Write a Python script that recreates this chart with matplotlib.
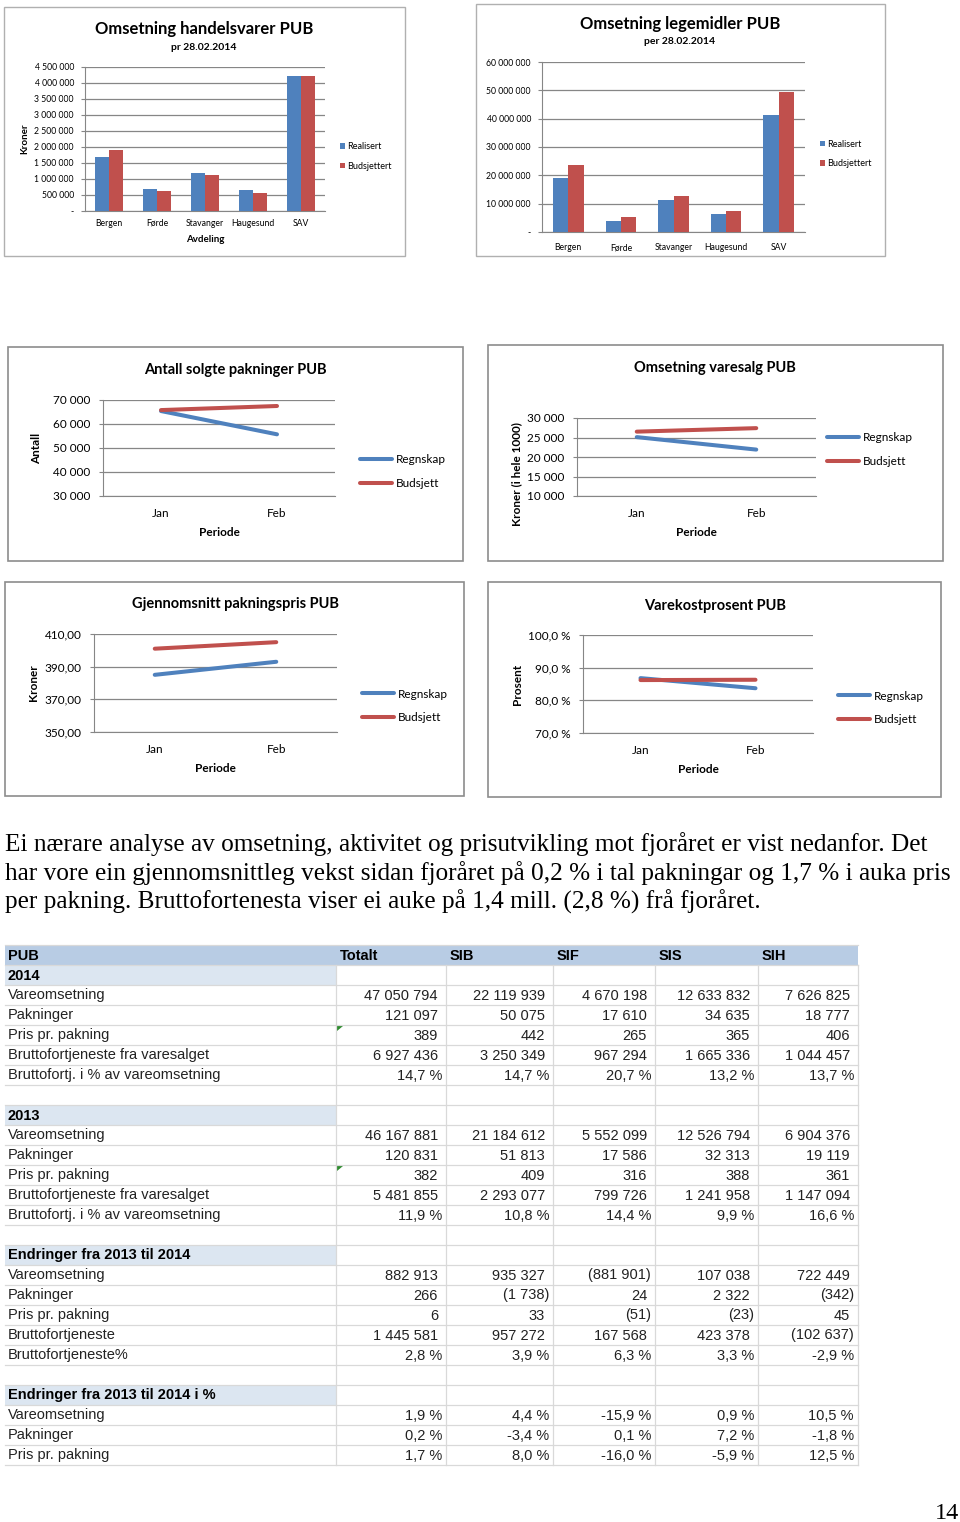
import numpy as np
import matplotlib
matplotlib.use('Agg')
import matplotlib.pyplot as plt
from matplotlib.patches import Rectangle, Polygon

# --- data read from the page ---------------------------------------------
avdelinger = ['Bergen', 'Førde', 'Stavanger', 'Haugesund', 'SAV']
handel_realisert = [1690000, 690000, 1180000, 655000, 4210000]
handel_budsjett = [1895000, 615000, 1125000, 570000, 4210000]
legemidler_realisert = [19100000, 3900000, 11400000, 6500000, 41400000]
legemidler_budsjett = [23500000, 5300000, 12700000, 7300000, 49400000]

perioder = ['Jan', 'Feb']
antall_regnskap = [65400, 55700]
antall_budsjett = [65800, 67500]
omsetning_regnskap = [25100, 21900]
omsetning_budsjett = [26500, 27400]
pris_regnskap = [385.0, 393.0]
pris_budsjett = [401.0, 405.0]
varekost_regnskap = [86.8, 83.7]
varekost_budsjett = [86.2, 86.3]

tabell_kolonner = ['Totalt', 'SIB', 'SIF', 'SIS', 'SIH']
rad_navn = ['Vareomsetning', 'Pakninger', 'Pris pr. pakning',
            'Bruttofortjeneste fra varesalget', 'Bruttofortj. i % av vareomsetning']
endring_navn = ['Vareomsetning', 'Pakninger', 'Pris pr. pakning',
                'Bruttofortjeneste', 'Bruttofortjeneste%']
endring_pst_navn = ['Vareomsetning', 'Pakninger', 'Pris pr. pakning']

vareoms_2014 = [47050794, 22119939, 4670198, 12633832, 7626825]
pakninger_2014 = [121097, 50075, 17610, 34635, 18777]
pris_2014 = [389, 442, 265, 365, 406]
brutto_2014 = [6927436, 3250349, 967294, 1665336, 1044457]
bruttopst_2014 = [14.7, 14.7, 20.7, 13.2, 13.7]

vareoms_2013 = [46167881, 21184612, 5552099, 12526794, 6904376]
pakninger_2013 = [120831, 51813, 17586, 32313, 19119]
pris_2013 = [382, 409, 316, 388, 361]
brutto_2013 = [5481855, 2293077, 799726, 1241958, 1147094]
bruttopst_2013 = [11.9, 10.8, 14.4, 9.9, 16.6]

endr_vareoms = [882913, 935327, -881901, 107038, 722449]
endr_pakninger = [266, -1738, 24, 2322, -342]
endr_pris = [6, 33, -51, -23, 45]
endr_brutto = [1445581, 957272, 167568, 423378, -102637]
endr_bruttopst = [2.8, 3.9, 6.3, 3.3, -2.9]

pst_vareoms = [1.9, 4.4, -15.9, 0.9, 10.5]
pst_pakninger = [0.2, -3.4, 0.1, 7.2, -1.8]
pst_pris = [1.7, 8.0, -16.0, -5.9, 12.5]

tekst = ['Ei nærare analyse av omsetning, aktivitet og prisutvikling mot fjoråret er vist nedanfor. Det',
         'har vore ein gjennomsnittleg vekst sidan fjoråret på 0,2 % i tal pakningar og 1,7 % i auka pris',
         'per pakning. Bruttofortenesta viser ei auke på 1,4 mill. (2,8 %) frå fjoråret.']

BLUE = '#4f81bd'
RED = '#c0504d'
GRID = '#868686'
CF = 'Lato'

W, H = 960, 1522
fig = plt.figure(figsize=(W / 100, H / 100), dpi=100)
fig.patch.set_facecolor('white')


def fx(x):
    return x / W


def fy(y):
    return 1 - y / H


def add_ax(x0, y0, x1, y1):
    return fig.add_axes([x0 / W, 1 - y1 / H, (x1 - x0) / W, (y1 - y0) / H])


def box(x0, y0, x1, y1, ec='#a6a6a6', lw=1.0):
    fig.add_artist(Rectangle((fx(x0), fy(y1)), (x1 - x0) / W, (y1 - y0) / H,
                             transform=fig.transFigure, fill=False, ec=ec, lw=lw))


def space_fmt(v):
    if v == 0:
        return '-'
    return '{:,.0f}'.format(v).replace(',', ' ')


def style_axes(ax, fs, ypad):
    for s in ['top', 'right']:
        ax.spines[s].set_visible(False)
    ax.spines['left'].set_color(GRID)
    ax.spines['bottom'].set_color(GRID)
    ax.yaxis.grid(True, color=GRID, lw=0.9)
    ax.set_axisbelow(True)
    ax.tick_params(axis='y', length=3, color=GRID, labelsize=fs, pad=ypad)
    ax.tick_params(axis='x', length=0, labelsize=fs)
    for lab in ax.get_xticklabels() + ax.get_yticklabels():
        lab.set_fontfamily(CF)


# --- bar charts -----------------------------------------------------------
def bar_chart(plot, real, bud, ymax, ystep, title, title_xy, sub, sub_xy,
              leg_xy, xpad, xlabel=None, ylabel=None):
    ax = add_ax(*plot)
    x = np.arange(len(avdelinger))
    w = 0.29
    ax.bar(x - w / 2, real, w, color=BLUE, label='Realisert', zorder=3)
    ax.bar(x + w / 2, bud, w, color=RED, label='Budsjettert', zorder=3)
    ax.set_xlim(-0.5, len(avdelinger) - 0.5)
    ax.set_ylim(0, ymax)
    ticks = np.arange(0, ymax + 1, ystep)
    ax.set_yticks(ticks)
    ax.set_yticklabels([space_fmt(t) for t in ticks])
    ax.set_xticks(x)
    ax.set_xticklabels(avdelinger)
    style_axes(ax, 6.2, 5)
    ax.tick_params(axis='x', pad=xpad)
    if xlabel:
        ax.set_xlabel(xlabel, fontfamily=CF, fontsize=7, fontweight='bold', labelpad=5)
    if ylabel:
        ax.set_ylabel(ylabel, fontfamily=CF, fontsize=7, fontweight='bold', labelpad=4)
    ax.legend(loc='center left', bbox_to_anchor=(fx(leg_xy[0]), fy(leg_xy[1])),
              bbox_transform=fig.transFigure, frameon=False,
              prop={'family': CF, 'size': 6.5}, handlelength=0.6, handleheight=0.6,
              handletextpad=0.2, labelspacing=1.15, borderpad=0, borderaxespad=0)
    fig.text(fx(title_xy[0]), fy(title_xy[1]), title, ha='center', va='center',
             fontfamily=CF, fontsize=12, fontweight='bold')
    fig.text(fx(sub_xy[0]), fy(sub_xy[1]), sub, ha='center', va='center',
             fontfamily=CF, fontsize=7.5, fontweight='bold')
    return ax


box(4, 7, 405, 256, ec='#b0b0b0')
bar_chart((85, 67, 325, 211), handel_realisert, handel_budsjett, 4500000, 500000,
          'Omsetning handelsvarer PUB', (204, 29), 'pr 28.02.2014', (204, 47),
          (340, 156.5), 5.5, xlabel='Avdeling', ylabel='Kroner')

box(476, 4, 885, 256, ec='#b0b0b0')
bar_chart((542, 62, 805, 232), legemidler_realisert, legemidler_budsjett, 60000000, 10000000,
          'Omsetning legemidler PUB', (680, 24), 'per 28.02.2014', (680, 42),
          (820, 154), 8)


# --- line charts ----------------------------------------------------------
def line_chart(frame, plot, reg, bud, ylim, yticks, yfmt, title, title_xy,
               ylabel, ylabel_y, leg_xy):
    box(*frame, ec='#8c8c8c', lw=1.2)
    ax = add_ax(*plot)
    x = np.arange(len(perioder))
    ax.plot(x, reg, color=BLUE, lw=2.9, solid_capstyle='round', label='Regnskap', zorder=3)
    ax.plot(x, bud, color=RED, lw=2.9, solid_capstyle='round', label='Budsjett', zorder=3)
    ax.set_xlim(-0.5, len(perioder) - 0.5)
    ax.set_ylim(*ylim)
    ax.set_yticks(yticks)
    ax.set_yticklabels([yfmt(t) for t in yticks])
    ax.set_xticks(x)
    ax.set_xticklabels(perioder)
    style_axes(ax, 8.5, 6)
    ax.tick_params(axis='x', pad=8.5)
    ax.set_xlabel('Periode', fontfamily=CF, fontsize=8.5, fontweight='bold', va='center')
    ph = plot[3] - plot[1]
    pw = plot[2] - plot[0]
    ax.xaxis.set_label_coords(0.5, -(37 / ph))
    ax.set_ylabel(ylabel, fontfamily=CF, fontsize=8.5, fontweight='bold', va='center')
    ax.yaxis.set_label_coords(-(plot[0] - frame[0] - 29) / pw, ylabel_y)
    ax.legend(loc='center left', bbox_to_anchor=(fx(leg_xy[0]), fy(leg_xy[1])),
              bbox_transform=fig.transFigure, frameon=False,
              prop={'family': CF, 'size': 8.5}, handlelength=2.7,
              handletextpad=0.3, labelspacing=1.1, borderpad=0, borderaxespad=0)
    fig.text(fx(title_xy[0]), fy(title_xy[1]), title, ha='center', va='center',
             fontfamily=CF, fontsize=10.5, fontweight='bold')
    return ax


line_chart((8, 347, 463, 561), (103, 400, 335, 496), antall_regnskap, antall_budsjett,
           (30000, 70000), np.arange(30000, 70001, 10000), space_fmt,
           'Antall solgte pakninger PUB', (235, 370), 'Antall', 0.5, (360, 471.5))

line_chart((488, 345, 943, 561), (577, 418, 816, 496), omsetning_regnskap, omsetning_budsjett,
           (10000, 30000), np.arange(10000, 30001, 5000), space_fmt,
           'Omsetning varesalg PUB', (715, 368), 'Kroner (i hele 1000)', 0.28, (827, 449.5))

line_chart((5, 582, 464, 796), (94, 634, 337, 732), pris_regnskap, pris_budsjett,
           (350, 410), np.arange(350, 411, 20),
           lambda v: '{:.2f}'.format(v).replace('.', ','),
           'Gjennomsnitt pakningspris PUB', (235, 604), 'Kroner', 0.5, (362, 706))

line_chart((488, 582, 941, 797), (583, 635, 813, 733), varekost_regnskap, varekost_budsjett,
           (70, 100), np.arange(70, 101, 10),
           lambda v: '{:.1f} %'.format(v).replace('.', ','),
           'Varekostprosent PUB', (715, 606), 'Prosent', 0.5, (838, 708))

# --- paragraph --------------------------------------------------------------
for i, line in enumerate(tekst):
    fig.text(fx(5), fy(851 + 29 * i), line, ha='left', va='baseline',
             fontfamily='Liberation Serif', fontsize=18.2)

fig.text(fx(959), fy(1519), '14', ha='right', va='baseline',
         fontfamily='Liberation Serif', fontsize=17.5)

# --- table ------------------------------------------------------------------
tab = add_ax(0, 940, 960, 1470)
tab.set_xlim(0, 960)
tab.set_ylim(1470, 940)
tab.axis('off')

col_edges = [336, 446, 553, 655, 758, 858]
T0, RH = 945, 20
TF = 'Liberation Sans'
FS = 10.5


def int_fmt(v):
    s = '{:,}'.format(abs(int(v))).replace(',', ' ')
    return '(' + s + ')' if v < 0 else s


def pct_fmt(v):
    return '{:.1f} %'.format(v).replace('.', ',')


rows = [('head', 'PUB', None, None), ('sec', '2014', None, None)]
for name, vals, kind in zip(rad_navn,
                            [vareoms_2014, pakninger_2014, pris_2014, brutto_2014, bruttopst_2014],
                            ['i', 'i', 'i', 'i', 'p']):
    rows.append(('data', name, vals, kind))
rows += [('blank', '', None, None), ('sec', '2013', None, None)]
for name, vals, kind in zip(rad_navn,
                            [vareoms_2013, pakninger_2013, pris_2013, brutto_2013, bruttopst_2013],
                            ['i', 'i', 'i', 'i', 'p']):
    rows.append(('data', name, vals, kind))
rows += [('blank', '', None, None), ('sec', 'Endringer fra 2013 til 2014', None, None)]
for name, vals, kind in zip(endring_navn,
                            [endr_vareoms, endr_pakninger, endr_pris, endr_brutto, endr_bruttopst],
                            ['i', 'i', 'i', 'i', 'p']):
    rows.append(('data', name, vals, kind))
rows += [('blank', '', None, None), ('sec', 'Endringer fra 2013 til 2014 i %', None, None)]
for name, vals in zip(endring_pst_navn, [pst_vareoms, pst_pakninger, pst_pris]):
    rows.append(('data', name, vals, 'p'))

n_rows = len(rows)
for i, (kind, label, vals, fmt) in enumerate(rows):
    y0 = T0 + RH * i
    yc = y0 + RH / 2 + 0.5
    if kind == 'head':
        tab.add_patch(Rectangle((5, y0), 853, RH, fc='#b8cce4', ec='none'))
        tab.text(8, yc, label, ha='left', va='center', fontfamily=TF, fontsize=FS,
                 fontweight='bold')
        for j, c in enumerate(tabell_kolonner):
            tab.text(col_edges[j] + 4, yc, c, ha='left', va='center', fontfamily=TF,
                     fontsize=FS, fontweight='bold')
    elif kind == 'sec':
        tab.add_patch(Rectangle((5, y0), 331, RH, fc='#dce6f1', ec='none'))
        tab.text(8, yc, label, ha='left', va='center', fontfamily=TF, fontsize=FS,
                 fontweight='bold')
    elif kind == 'data':
        tab.text(8, yc, label, ha='left', va='center', fontfamily=TF, fontsize=FS,
                 color='#222222')
        for j, v in enumerate(vals):
            right = col_edges[j + 1]
            if fmt == 'p':
                s, xr = pct_fmt(v), right - 4
            elif v < 0:
                s, xr = int_fmt(v), right - 4
            else:
                s, xr = int_fmt(v), right - 8
            tab.text(xr, yc, s, ha='right', va='center', fontfamily=TF, fontsize=FS,
                     color='#222222')
        if label == 'Pris pr. pakning' and vals is not pst_pris and vals is not endr_pris:
            tab.add_patch(Polygon([(337, y0 + 1), (343, y0 + 1), (337, y0 + 6)],
                                  closed=True, fc='#2e8b2e', ec='none'))

for i in range(n_rows + 1):
    tab.plot([5, 858], [T0 + RH * i] * 2, color='#d9d9d9', lw=0.9, zorder=1)
for xe in col_edges:
    tab.plot([xe, xe], [T0 + RH, T0 + RH * n_rows], color='#d9d9d9', lw=0.9, zorder=1)

fig.savefig('out.png', dpi=100, facecolor='white')
